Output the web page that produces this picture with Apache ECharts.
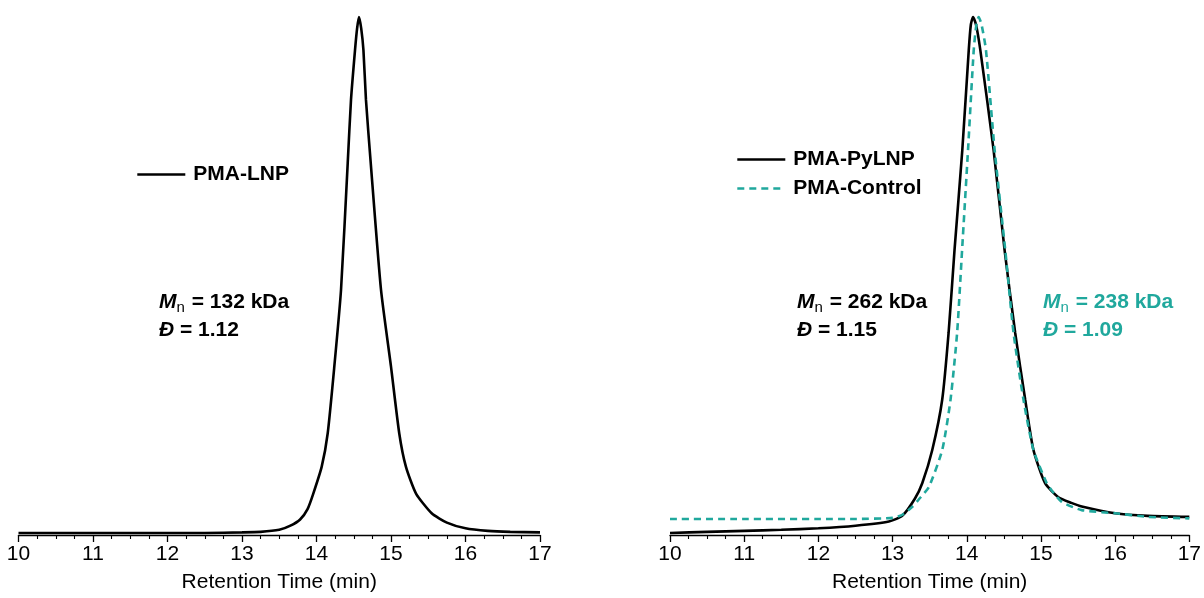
<!DOCTYPE html>
<html>
<head>
<meta charset="utf-8">
<script src="https://cdn.jsdelivr.net/npm/echarts@6/dist/echarts.min.js"></script>
<style>
html,body{margin:0;padding:0;background:#fff;}
#chart{width:1204px;height:598px;}
</style>
</head>
<body>
<div id="chart"></div>
<script>
// x-axis tick range (retention time, min)
const xTicks = [10, 11, 12, 13, 14, 15, 16, 17];
const axisTitle = 'Retention Time (min)';

// Left panel: PMA-LNP (normalized intensity)
const lnpX = [10,11,12,12.5,13,13.25,13.5,13.65,13.78,13.88,13.957,14.07,14.15,14.239,14.329,14.419,14.463,14.517,14.545,14.57,14.6,14.63,14.664,14.728,14.866,15.0,15.111,15.2,15.336,15.546,15.75,16,16.3,16.6,17];
const lnpY = [0.004,0.004,0.004,0.004,0.005,0.006,0.01,0.018,0.03,0.05,0.08,0.132,0.196,0.325,0.473,0.718,0.84,0.936,0.978,1.0,0.978,0.936,0.84,0.718,0.473,0.325,0.196,0.132,0.08,0.042,0.024,0.013,0.008,0.006,0.005];

// Right panel: PMA-PyLNP (solid black)
const pyX = [10,10.5,11,11.5,12,12.5,12.95,13.13,13.3,13.4,13.535,13.669,13.755,13.835,13.94,14.027,14.055,14.085,14.125,14.183,14.362,14.51,14.653,14.788,14.899,15.056,15.235,15.41,15.55,16.0,16.44,17];
const pyY = [0.004,0.006,0.008,0.01,0.013,0.018,0.026,0.037,0.07,0.1,0.164,0.261,0.39,0.55,0.743,0.936,0.985,1.0,0.985,0.936,0.743,0.55,0.39,0.261,0.164,0.1,0.073,0.062,0.055,0.042,0.037,0.035];

// Right panel: PMA-Control (teal dashed)
const ctrlX = [10,11,12,12.5,13.0,13.13,13.27,13.35,13.49,13.669,13.781,13.87,13.937,14.017,14.094,14.13,14.161,14.2,14.259,14.376,14.519,14.631,14.765,14.899,15.078,15.14,15.28,15.55,16.0,16.44,17];
const ctrlY = [0.031,0.031,0.031,0.031,0.033,0.039,0.055,0.068,0.093,0.164,0.261,0.39,0.55,0.743,0.936,0.985,1.0,0.985,0.936,0.743,0.55,0.39,0.261,0.164,0.1,0.087,0.064,0.048,0.042,0.035,0.032];

const names = ['PMA-LNP', 'PMA-PyLNP', 'PMA-Control'];
const notes = [
  {mn: '132', d: '1.12'},
  {mn: '262', d: '1.15'},
  {mn: '238', d: '1.09'}
];

const TEAL = '#20a89d';
const FONT = '"Liberation Sans", Arial, sans-serif';

function pairs(xs, ys){ return xs.map((x,i)=>[x, ys[i]]); }

function xAxisCfg(gi){
  return {
    type:'value', gridIndex: gi, min: xTicks[0], max: xTicks[xTicks.length-1], interval: 1,
    position:'bottom',
    axisLine:{show:true, onZero:false, lineStyle:{color:'#000', width:1.3}},
    axisTick:{show:true, inside:false, length:7, lineStyle:{color:'#000', width:1.3}},
    minorTick:{show:true, splitNumber:4, length:4, lineStyle:{color:'#000', width:1.1}},
    splitLine:{show:false},
    axisLabel:{color:'#000', fontSize:21, fontFamily:FONT, margin:9},
    name: axisTitle, nameLocation:'middle', nameGap:37,
    nameTextStyle:{color:'#000', fontSize:21, fontFamily:FONT}
  };
}
function yAxisCfg(gi){
  return {type:'value', gridIndex: gi, min:0, max:1, show:false};
}

function noteText(n){
  return '{m|M}{s|n}{t| = ' + n.mn + ' kDa}\n{m|Đ}{t| = ' + n.d + '}';
}
function noteRich(color){
  return {
    m:{fontSize:21, fontWeight:'bold', fontStyle:'italic', fontFamily:FONT, fill:color, lineHeight:28},
    s:{fontSize:15, fontFamily:FONT, fill:color, padding:[11,1,0,0], lineHeight:15},
    t:{fontSize:21, fontWeight:'bold', fontFamily:FONT, fill:color, lineHeight:28}
  };
}

const legendText = {fontSize:21, fontWeight:'bold', fontFamily:FONT, color:'#000', padding:[0,0,0,3]};

const chart = echarts.init(document.getElementById('chart'), null, {renderer:'canvas'});
chart.setOption({
  backgroundColor:'#fff',
  animation:false,
  grid:[
    {left:18.5, top:17, width:521.5, height:518},
    {left:670, top:17, width:521.5, height:518}
  ],
  xAxis:[xAxisCfg(0), xAxisCfg(1)],
  yAxis:[yAxisCfg(0), yAxisCfg(1)],
  legend:[
    {data:[names[0]], left:136, top:164, padding:0, itemWidth:48, itemHeight:20,
     itemStyle:{opacity:0}, lineStyle:{width:2.6}, textStyle:legendText},
    {data:[names[1], names[2]], orient:'vertical', left:736, top:149, padding:0, itemGap:8, itemWidth:48, itemHeight:20,
     itemStyle:{opacity:0}, lineStyle:{width:2.6}, textStyle:legendText}
  ],
  series:[
    {name:names[0], type:'line', xAxisIndex:0, yAxisIndex:0, data:pairs(lnpX,lnpY),
     symbol:'none', smooth:0.2, clip:false,
     lineStyle:{color:'#000', width:2.6}, itemStyle:{color:'#000'}},
    {name:names[1], type:'line', xAxisIndex:1, yAxisIndex:1, data:pairs(pyX,pyY),
     symbol:'none', smooth:0.2, clip:false,
     lineStyle:{color:'#000', width:2.6}, itemStyle:{color:'#000'}},
    {name:names[2], type:'line', xAxisIndex:1, yAxisIndex:1, data:pairs(ctrlX,ctrlY),
     symbol:'none', smooth:0.2, clip:false, z:3,
     lineStyle:{color:TEAL, width:2.6, type:[7,5]}, itemStyle:{color:TEAL}}
  ],
  graphic:[
    {type:'text', left:159, top:289, style:{text:noteText(notes[0]), rich:noteRich('#000')}},
    {type:'text', left:797, top:289, style:{text:noteText(notes[1]), rich:noteRich('#000')}},
    {type:'text', left:1043, top:289, style:{text:noteText(notes[2]), rich:noteRich(TEAL)}}
  ]
});
</script>
</body>
</html>
